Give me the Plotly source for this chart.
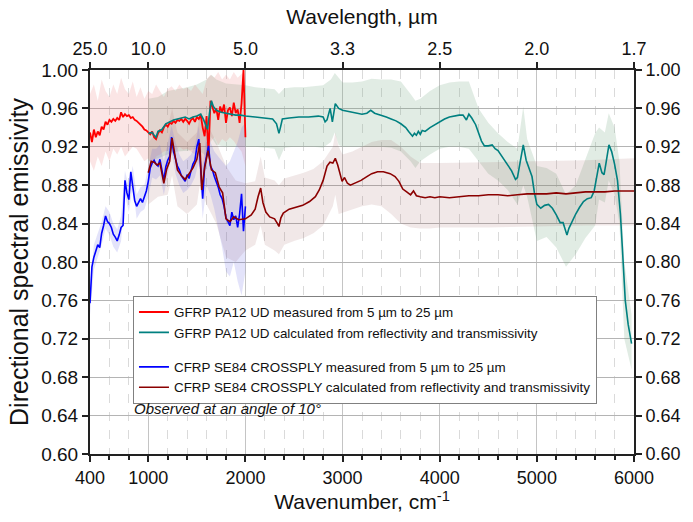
import plotly.graph_objects as go

# ---------------- data ----------------
# wavenumber grid of the FTIR measurements (cm^-1)
WN_MEAS = list(range(400, 2001, 20))

GFRP_MEAS = [
    0.935, 0.925, 0.938, 0.930, 0.936, 0.932, 0.941, 0.938, 0.946, 0.943,
    0.948, 0.946, 0.949, 0.947, 0.950, 0.948, 0.956, 0.951, 0.954, 0.952,
    0.953, 0.950, 0.951, 0.948, 0.947, 0.945, 0.944, 0.941, 0.938, 0.937,
    0.935, 0.933, 0.936, 0.930, 0.928, 0.934, 0.937, 0.935, 0.940, 0.943,
    0.941, 0.945, 0.944, 0.947, 0.945, 0.948, 0.947, 0.949, 0.946, 0.949,
    0.947, 0.944, 0.948, 0.950, 0.946, 0.951, 0.949, 0.953, 0.940, 0.931,
    0.952, 0.912, 0.968, 0.962, 0.955, 0.960, 0.948, 0.962, 0.956, 0.964,
    0.945, 0.958, 0.961, 0.952, 0.966, 0.955, 0.959, 0.945, 0.965, 1.000,
    0.930,
]

CFRP_MEAS = [
    0.757, 0.795, 0.805, 0.812, 0.818, 0.815, 0.830, 0.838, 0.848, 0.842,
    0.840, 0.836, 0.829, 0.826, 0.822, 0.828, 0.836, 0.838, 0.885, 0.872,
    0.865, 0.894, 0.878, 0.864, 0.858, 0.862, 0.866, 0.862, 0.868, 0.874,
    0.884, 0.898, 0.903, 0.906, 0.902, 0.900, 0.907, 0.895, 0.885, 0.899,
    0.906, 0.910, 0.930, 0.915, 0.908, 0.900, 0.896, 0.890, 0.887, 0.884,
    0.891, 0.887, 0.895, 0.902, 0.906, 0.920, 0.928, 0.890, 0.866, 0.900,
    0.912, 0.921, 0.900, 0.896, 0.889, 0.884, 0.878, 0.870, 0.866, 0.858,
    0.846, 0.842, 0.838, 0.852, 0.844, 0.848, 0.836, 0.850, 0.871, 0.832,
    0.858,
]

# uncertainty envelopes of the measured spectra
WN_MEAS_BAND = list(range(400, 2001, 40))
GFRP_MEAS_HI = [
    0.975, 0.985, 0.968, 0.990, 0.978, 0.972, 0.985, 0.975, 0.992, 0.980,
    0.975, 0.988, 0.972, 0.982, 0.970, 0.978, 0.975, 0.985, 0.978, 0.972,
    0.980, 0.983, 0.978, 0.985, 0.980, 0.982, 0.978, 0.985, 0.980, 0.975,
    0.990, 0.995, 0.992, 0.998, 0.990, 0.995, 0.990, 0.998, 0.992, 0.996,
    1.000,
]
GFRP_MEAS_LO = [
    0.905, 0.895, 0.910, 0.900, 0.915, 0.905, 0.918, 0.912, 0.920, 0.910,
    0.915, 0.920, 0.918, 0.912, 0.905, 0.908, 0.900, 0.910, 0.912, 0.915,
    0.916, 0.918, 0.915, 0.920, 0.917, 0.918, 0.915, 0.912, 0.900, 0.885,
    0.905, 0.925, 0.930, 0.922, 0.928, 0.925, 0.930, 0.926, 0.920, 0.915,
    0.900,
]
CFRP_MEAS_HI = [
    0.775, 0.818, 0.830, 0.842, 0.858, 0.852, 0.840, 0.834, 0.848, 0.895,
    0.878, 0.900, 0.870, 0.878, 0.880, 0.898, 0.918, 0.918, 0.922, 0.905,
    0.922, 0.942, 0.925, 0.912, 0.905, 0.908, 0.912, 0.922, 0.942, 0.900,
    0.935, 0.925, 0.915, 0.910, 0.905, 0.900, 0.905, 0.915, 0.925, 0.940,
    0.945,
]
CFRP_MEAS_LO = [
    0.745, 0.792, 0.805, 0.818, 0.835, 0.828, 0.816, 0.810, 0.822, 0.870,
    0.852, 0.880, 0.845, 0.852, 0.855, 0.868, 0.888, 0.886, 0.890, 0.870,
    0.890, 0.915, 0.892, 0.880, 0.872, 0.875, 0.880, 0.888, 0.905, 0.845,
    0.880, 0.870, 0.855, 0.835, 0.815, 0.790, 0.785, 0.800, 0.780, 0.765,
    0.790,
]

# emissivity calculated from reflectivity and transmissivity
WN_GFRP_CALC = [
    1000, 1040, 1060, 1080, 1100, 1140, 1180, 1220, 1260, 1300, 1340, 1380,
    1420, 1460, 1500, 1540, 1570, 1590, 1610, 1630, 1650, 1670, 1700, 1750,
    1800, 1850, 1900, 1950, 2000, 2100, 2200, 2280, 2320, 2345, 2360, 2380,
    2450, 2550, 2650, 2750, 2800, 2820, 2840, 2872, 2895, 2910, 2925, 2960,
    3000, 3050, 3100, 3150, 3200, 3250, 3290, 3330, 3400, 3450, 3500, 3550,
    3600, 3650, 3680, 3700, 3720, 3740, 3760, 3780, 3800, 3820, 3850, 3900,
    3950, 4000, 4050, 4100, 4150, 4200, 4240, 4260, 4275, 4300, 4330, 4370,
    4400, 4430, 4460, 4500, 4540, 4570, 4600, 4650, 4700, 4740, 4780, 4800,
    4830, 4860, 4890, 4920, 4950, 4975, 5000, 5040, 5080, 5120, 5160, 5200,
    5240, 5270, 5290, 5310, 5330, 5360, 5400, 5440, 5480, 5520, 5560, 5590,
    5620, 5642, 5670, 5692, 5715, 5742, 5770, 5800, 5830, 5860, 5880, 5910,
    5940, 5975,
]
GFRP_CALC = [
    0.934, 0.935, 0.932, 0.930, 0.936, 0.938, 0.944, 0.946, 0.948, 0.949, 0.950, 0.951,
    0.949, 0.951, 0.952, 0.954, 0.948, 0.942, 0.938, 0.955, 0.968, 0.962, 0.958, 0.956,
    0.955, 0.954, 0.953, 0.953, 0.952, 0.951, 0.950, 0.949, 0.944, 0.934, 0.940, 0.949,
    0.950, 0.951, 0.951, 0.952, 0.951, 0.946, 0.948, 0.960, 0.946, 0.955, 0.965, 0.960,
    0.958, 0.957, 0.956, 0.955, 0.954, 0.955, 0.958, 0.955, 0.953, 0.951, 0.949, 0.947,
    0.944, 0.940, 0.936, 0.934, 0.931, 0.934, 0.932, 0.936, 0.933, 0.937, 0.936, 0.940,
    0.943, 0.946, 0.949, 0.951, 0.952, 0.953, 0.953, 0.950, 0.948, 0.954, 0.950, 0.943,
    0.935, 0.926, 0.921, 0.921, 0.922, 0.918, 0.916, 0.908, 0.901, 0.895, 0.886, 0.888,
    0.905, 0.922, 0.906, 0.897, 0.889, 0.872, 0.860, 0.856, 0.859, 0.860, 0.856, 0.849,
    0.841, 0.841, 0.835, 0.828, 0.835, 0.842, 0.850, 0.857, 0.863, 0.866, 0.867, 0.874,
    0.890, 0.903, 0.893, 0.891, 0.905, 0.922, 0.915, 0.902, 0.885, 0.850, 0.815, 0.760,
    0.735, 0.715,
]

WN_CFRP_CALC = [
    1000, 1030, 1060, 1090, 1120, 1160, 1190, 1220, 1245, 1270, 1300, 1340,
    1380, 1420, 1460, 1500, 1530, 1550, 1580, 1615, 1650, 1690, 1730, 1765,
    1800, 1840, 1880, 1930, 2000, 2060, 2100, 2130, 2157, 2180, 2210, 2250,
    2300, 2330, 2345, 2365, 2390, 2450, 2520, 2590, 2660, 2720, 2760, 2800,
    2840, 2870, 2900, 2925, 2950, 2975, 2995, 3020, 3050, 3080, 3120, 3190,
    3250, 3300, 3360, 3420, 3490, 3540, 3580, 3620, 3660, 3700, 3730, 3760,
    3800, 3850, 3900, 3950, 4000, 4100, 4200, 4300, 4400, 4500, 4600, 4700,
    4800, 4900, 5000, 5100, 5200, 5300, 5400, 5500, 5600, 5700, 5800, 5900,
    6000,
]
CFRP_CALC = [
    0.893, 0.905, 0.904, 0.901, 0.903, 0.882, 0.897, 0.905, 0.929, 0.914, 0.896, 0.890,
    0.886, 0.892, 0.898, 0.907, 0.924, 0.875, 0.898, 0.916, 0.896, 0.893, 0.878, 0.872,
    0.845, 0.842, 0.847, 0.844, 0.845, 0.849, 0.855, 0.868, 0.877, 0.862, 0.852, 0.847,
    0.845, 0.840, 0.837, 0.846, 0.851, 0.855, 0.857, 0.859, 0.863, 0.868, 0.875, 0.885,
    0.900, 0.904, 0.903, 0.908, 0.901, 0.890, 0.884, 0.888, 0.882, 0.880, 0.882, 0.885,
    0.889, 0.892, 0.894, 0.894, 0.892, 0.889, 0.884, 0.876, 0.873, 0.870, 0.874, 0.869,
    0.868, 0.867, 0.868, 0.867, 0.868, 0.867, 0.868, 0.869, 0.869, 0.870, 0.870, 0.869,
    0.870, 0.871, 0.871, 0.871, 0.872, 0.871, 0.872, 0.873, 0.873, 0.873, 0.874, 0.874,
    0.874,
]

# uncertainty envelopes of the calculated spectra
WN_GFRP_BAND = [
    1000, 1100, 1200, 1300, 1400, 1500, 1600, 1650, 1700, 1800, 1900, 2000,
    2100, 2200, 2300, 2345, 2400, 2500, 2600, 2700, 2800, 2880, 2920, 2960,
    3000, 3100, 3200, 3300, 3400, 3500, 3600, 3700, 3750, 3800, 3900, 4000,
    4100, 4200, 4300, 4400, 4500, 4600, 4700, 4800, 4860, 4900, 5000, 5100,
    5200, 5300, 5400, 5500, 5600, 5640, 5700, 5740, 5800, 5850, 5900, 5975,
]
GFRP_CALC_HI = [
    0.970, 0.972, 0.978, 0.980, 0.982, 0.985, 0.990, 0.995, 0.990, 0.986, 0.985, 0.984,
    0.982, 0.981, 0.980, 0.975, 0.981, 0.982, 0.982, 0.983, 0.984, 0.990, 0.997, 0.992,
    0.987, 0.987, 0.988, 0.991, 0.990, 0.990, 0.988, 0.975, 0.968, 0.970, 0.978, 0.984,
    0.987, 0.988, 0.988, 0.960, 0.945, 0.934, 0.925, 0.918, 0.962, 0.928, 0.900, 0.898,
    0.892, 0.870, 0.880, 0.907, 0.934, 0.940, 0.935, 0.955, 0.940, 0.905, 0.800, 0.745,
]
GFRP_CALC_LO = [
    0.905, 0.908, 0.912, 0.915, 0.916, 0.918, 0.910, 0.930, 0.922, 0.920, 0.920, 0.920,
    0.920, 0.919, 0.918, 0.906, 0.919, 0.920, 0.920, 0.920, 0.919, 0.925, 0.935, 0.922,
    0.920, 0.920, 0.920, 0.920, 0.920, 0.919, 0.915, 0.905, 0.898, 0.905, 0.912, 0.918,
    0.920, 0.920, 0.918, 0.905, 0.892, 0.885, 0.875, 0.860, 0.880, 0.868, 0.822, 0.826,
    0.815, 0.795, 0.808, 0.825, 0.838, 0.865, 0.862, 0.885, 0.870, 0.840, 0.720, 0.688,
]

WN_CFRP_BAND = [
    1000, 1100, 1200, 1245, 1300, 1400, 1500, 1530, 1600, 1700, 1800, 1900,
    2000, 2100, 2157, 2200, 2300, 2345, 2400, 2500, 2600, 2700, 2800, 2900,
    2925, 2960, 3000, 3100, 3200, 3300, 3400, 3500, 3600, 3700, 3800, 3900,
    4000, 4500, 5000, 5500, 6000,
]
CFRP_CALC_HI = [
    0.925, 0.935, 0.940, 0.960, 0.935, 0.925, 0.935, 0.955, 0.945, 0.925, 0.900, 0.885,
    0.882, 0.884, 0.910, 0.888, 0.885, 0.880, 0.887, 0.890, 0.893, 0.897, 0.905, 0.920,
    0.935, 0.920, 0.912, 0.915, 0.920, 0.925, 0.927, 0.927, 0.920, 0.910, 0.903, 0.903,
    0.903, 0.904, 0.905, 0.906, 0.908,
]
CFRP_CALC_LO = [
    0.860, 0.868, 0.870, 0.890, 0.858, 0.850, 0.860, 0.880, 0.860, 0.840, 0.805, 0.800,
    0.812, 0.818, 0.838, 0.818, 0.812, 0.808, 0.818, 0.822, 0.825, 0.830, 0.838, 0.858,
    0.870, 0.850, 0.852, 0.855, 0.858, 0.860, 0.858, 0.850, 0.840, 0.836, 0.835, 0.835,
    0.836, 0.836, 0.837, 0.838, 0.838,
]

# axis ticks
WN_TICKS = [400, 1000, 2000, 3000, 4000, 5000, 6000]
WAVELENGTH_LABELS = ["25.0", "10.0", "5.0", "3.3", "2.5", "2.0", "1.7"]
WN_MINOR = [v for v in range(600, 6000, 200) if v % 1000 != 0]

NAMES = [
    "GFRP PA12 UD measured from 5 µm to 25 µm",
    "GFRP PA12 UD calculated from reflectivity and transmissivity",
    "CFRP SE84 CROSSPLY measured from 5 µm to 25 µm",
    "CFRP SE84 CROSSPLY calculated from reflectivity and transmissivity",
]

FONT = "Arial, 'Liberation Sans', sans-serif"
C_RED, C_TEAL, C_BLUE, C_DRED = "#ff0000", "#008080", "#0000ff", "#8b0000"


def band(x, hi, lo, color):
    return go.Scatter(
        x=list(x) + list(x)[::-1],
        y=list(hi) + list(lo)[::-1],
        fill="toself", fillcolor=color, mode="lines",
        line=dict(width=0), showlegend=False, hoverinfo="skip",
    )


fig = go.Figure()

# shaded uncertainty envelopes
fig.add_trace(band(WN_GFRP_BAND, GFRP_CALC_HI, GFRP_CALC_LO, "rgba(120,170,130,0.22)"))
fig.add_trace(band(WN_CFRP_BAND, CFRP_CALC_HI, CFRP_CALC_LO, "rgba(150,80,80,0.13)"))
fig.add_trace(band(WN_MEAS_BAND, GFRP_MEAS_HI, GFRP_MEAS_LO, "rgba(235,110,110,0.18)"))
fig.add_trace(band(WN_MEAS_BAND, CFRP_MEAS_HI, CFRP_MEAS_LO, "rgba(100,100,230,0.18)"))

# spectra
fig.add_trace(go.Scatter(x=WN_MEAS, y=GFRP_MEAS, mode="lines", name=NAMES[0],
                         line=dict(color=C_RED, width=1.8), legendgroup="g", legendrank=1))
fig.add_trace(go.Scatter(x=WN_MEAS, y=CFRP_MEAS, mode="lines", name=NAMES[2],
                         line=dict(color=C_BLUE, width=1.6), legendgroup="c", legendrank=3))
fig.add_trace(go.Scatter(x=WN_GFRP_CALC, y=GFRP_CALC, mode="lines", name=NAMES[1],
                         line=dict(color=C_TEAL, width=1.6), legendgroup="g", legendrank=2))
fig.add_trace(go.Scatter(x=WN_CFRP_CALC, y=CFRP_CALC, mode="lines", name=NAMES[3],
                         line=dict(color=C_DRED, width=1.6), legendgroup="c", legendrank=4))

# carrier for the secondary (top / right) axes
fig.add_trace(go.Scatter(x=WN_CFRP_CALC, y=CFRP_CALC, xaxis="x2", yaxis="y2", mode="lines",
                         line=dict(width=0), opacity=0, showlegend=False, hoverinfo="skip"))

axis_line = dict(showline=True, linecolor="#222", linewidth=2, ticks="outside",
                 ticklen=6, tickwidth=1.5, tickcolor="#222")

fig.update_layout(
    width=693, height=522,
    margin=dict(l=90, r=48, t=70, b=68),
    paper_bgcolor="white", plot_bgcolor="white",
    font=dict(family=FONT, color="#111"),
    xaxis=dict(
        range=[400, 6000], tickmode="array", tickvals=WN_TICKS,
        tickfont=dict(size=18), showgrid=True, gridcolor="#c4c4c4", gridwidth=1.3,
        zeroline=False,
        minor=dict(tickmode="array", tickvals=WN_MINOR, ticks="outside", ticklen=4,
                   tickcolor="#222", showgrid=True, griddash="dash",
                   gridcolor="#dadada", gridwidth=1),
        title=dict(text="Wavenumber, cm<sup>-1</sup>", font=dict(size=21), standoff=7),
        **axis_line,
    ),
    xaxis2=dict(
        range=[400, 6000], overlaying="x", side="top", anchor="y",
        tickmode="array", tickvals=WN_TICKS, ticktext=WAVELENGTH_LABELS,
        tickfont=dict(size=18), showgrid=False, zeroline=False,
        title=dict(text="Wavelength, µm", font=dict(size=21), standoff=8),
        **axis_line,
    ),
    yaxis=dict(
        range=[0.6, 1.0], tickmode="linear", tick0=0.6, dtick=0.04, tickformat=".2f",
        tickfont=dict(size=19), showgrid=True, gridcolor="#b4b4b4", gridwidth=1,
        zeroline=False,
        title=dict(text="Directional spectral emissivity", font=dict(size=25), standoff=5),
        **axis_line,
    ),
    yaxis2=dict(
        range=[0.6, 1.0], overlaying="y", side="right", anchor="x",
        tickmode="linear", tick0=0.6, dtick=0.04, tickformat=".2f",
        tickfont=dict(size=18), showgrid=False, zeroline=False,
        **axis_line,
    ),
    legend=dict(
        x=0.079, y=0.412, xanchor="left", yanchor="top",
        bgcolor="white", bordercolor="#808080", borderwidth=1,
        font=dict(size=13.4, family=FONT), traceorder="grouped", tracegroupgap=14,
    ),
    annotations=[dict(
        text="<i>Observed at an angle of 10°</i>", xref="paper", yref="paper",
        x=0.077, y=0.118, xanchor="left", yanchor="middle", showarrow=False,
        font=dict(size=15, family=FONT),
    )],
    showlegend=True,
)

fig.write_html("out.html")
